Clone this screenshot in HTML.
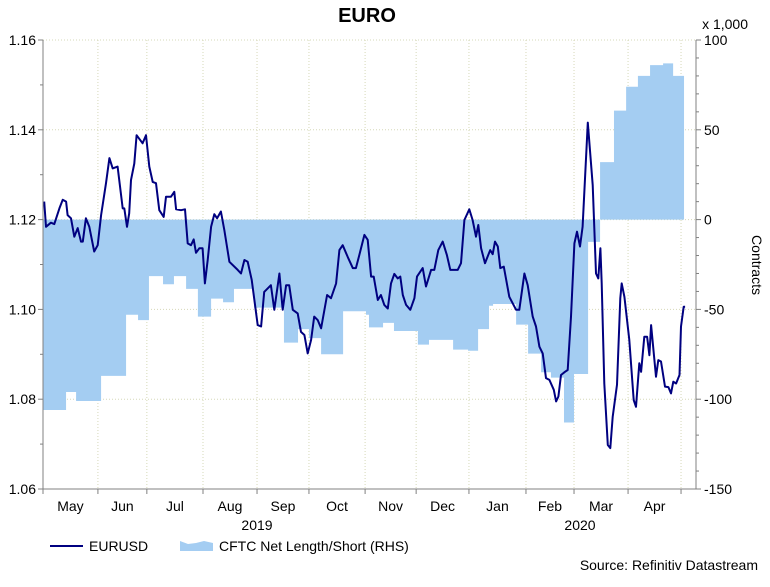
<!DOCTYPE html>
<html><head><meta charset="utf-8"><style>
body{margin:0;background:#fff;}
svg text{font-family:"Liberation Sans",Arial,sans-serif;fill:#000;}
</style></head><body>
<svg id="chart" width="770" height="582" viewBox="0 0 770 582" xmlns="http://www.w3.org/2000/svg">
<text x="367" y="22" font-size="20" font-weight="bold" text-anchor="middle">EURO</text>
<text x="748" y="29" font-size="14" text-anchor="end">x 1,000</text>
<g id="grid"></g>
<g id="area"></g>
<g id="line"></g>
<g id="axes"></g>
<text transform="translate(752,265) rotate(90)" font-size="14" text-anchor="middle">Contracts</text>
<text x="257" y="530" font-size="14" text-anchor="middle">2019</text>
<text x="580" y="530" font-size="14" text-anchor="middle">2020</text>
<g>
<line x1="50" y1="546" x2="83" y2="546" stroke="#000080" stroke-width="2"/>
<text x="89" y="551" font-size="14">EURUSD</text>
</g>
<g>
<path d="M180,541 L188,544 L196,543 L204,541 L213,543 L213,551 L180,551 Z" fill="#a4cdf2"/>
<text x="219" y="551" font-size="14">CFTC Net Length/Short (RHS)</text>
</g>
<text x="758" y="570" font-size="14" text-anchor="end">Source: Refinitiv Datastream</text>
</svg>
<script>
// EURUSD: day offsets from late Apr 2019, and prices
const fxDays=[0.7,1.7,4.5,6.4,9.3,11.2,13.1,14.0,15.9,17.8,19.7,21.6,22.6,24.4,26.3,29.1,31.1,33.0,35.8,37.7,39.6,42.4,45.3,46.2,47.7,49.0,50.0,51.9,53.2,56.6,58.5,60.4,62.3,64.2,66.1,68.6,69.9,72.7,74.6,75.6,78.4,80.7,82.2,84.1,85.6,86.9,88.8,90.7,92.0,93.6,95.5,97.3,98.9,101.1,103.0,105.9,110.6,112.5,114.4,116.3,118.6,122.0,123.9,125.7,129.5,131.4,134.3,136.2,138.1,139.9,141.9,144.7,146.6,148.5,150.4,152.3,154.1,156.1,158.0,161.4,163.6,166.5,168.4,170.3,173.1,176.0,177.8,179.7,182.6,184.5,186.4,187.9,190.2,192.0,193.9,195.9,197.7,199.6,201.5,203.0,204.4,206.3,208.7,211.0,212.5,215.7,217.6,220.5,222.3,224.6,227.1,229.5,231.4,235.6,237.5,239.4,242.2,244.1,246.0,247.3,248.9,251.1,254.1,255.5,256.8,258.4,259.8,261.8,264.9,268.8,270.6,273.5,275.4,278.2,280.1,282.0,283.9,285.8,287.7,290.2,291.5,292.8,294.3,296.6,298.1,300.0,301.9,303.4,305.1,306.6,309.5,312.3,314.2,315.5,316.7,317.4,318.9,320.9,322.3,323.7,326.1,328.0,328.8,330.3,333.1,335.6,336.9,338.8,339.8,341.6,343.2,344.5,345.5,348.3,349.6,351.1,353.4,355.3,356.8,358.1,359.7,361.6,362.5,364.0,364.8];
const fxValues=[1.1240,1.1184,1.1193,1.1190,1.1225,1.1244,1.1240,1.1210,1.1203,1.1162,1.1181,1.1151,1.1151,1.1203,1.1184,1.1129,1.1143,1.1210,1.1281,1.1337,1.1314,1.1318,1.1225,1.1225,1.1184,1.1214,1.1288,1.1325,1.1388,1.1370,1.1388,1.1318,1.1284,1.1281,1.1221,1.1206,1.1251,1.1251,1.1262,1.1223,1.1221,1.1223,1.1147,1.1143,1.1156,1.1126,1.1136,1.1136,1.1058,1.1110,1.1184,1.1212,1.1203,1.1218,1.1177,1.1106,1.1088,1.1080,1.1110,1.1106,1.1066,1.0965,1.0962,1.1039,1.1054,1.0999,1.1080,1.0999,1.1054,1.1054,1.0999,1.0991,1.0950,1.0943,1.0902,1.0932,1.0984,1.0976,1.0958,1.1032,1.1025,1.1058,1.1132,1.1143,1.1117,1.1092,1.1092,1.1121,1.1166,1.1155,1.1073,1.1073,1.1021,1.1032,1.1010,1.1002,1.1058,1.1079,1.1069,1.1073,1.1032,1.1010,1.0999,1.1025,1.1073,1.1092,1.1051,1.1088,1.1088,1.1132,1.1151,1.1121,1.1088,1.1088,1.1103,1.1199,1.1223,1.1199,1.1162,1.1188,1.1136,1.1103,1.1132,1.1123,1.1151,1.1140,1.1092,1.1095,1.1028,1.0999,1.0999,1.1080,1.1054,1.0984,1.0962,1.0917,1.0902,1.0847,1.0843,1.0821,1.0795,1.0806,1.0854,1.0861,1.0865,1.0984,1.1147,1.1173,1.1140,1.1184,1.1416,1.1277,1.1080,1.1069,1.1136,1.1058,1.0835,1.0698,1.0691,1.0761,1.0832,1.1025,1.1058,1.1028,1.0932,1.0798,1.0783,1.0880,1.0861,1.0939,1.0939,1.0898,1.0965,1.0850,1.0887,1.0884,1.0828,1.0827,1.0813,1.0839,1.0835,1.0854,1.0962,1.1006,1.1006];
// CFTC net positions (thousands): start day of each step, value
const cftcDays=[0,13.1,18.8,33,47.2,54,60.2,68.2,74.4,81.3,88,95.5,102.3,108.5,119.9,136.9,144.9,151.1,158,170.5,183.5,185.2,193.2,199.4,213,219.3,233,241.5,247.2,253.4,255.7,268.8,275.6,283,288.6,296,301.7,309.7,316.5,324.4,331.3,338,344.9,352.3,358];
const cftcValues=[-106,-96,-101,-87,-53,-56,-31.5,-36,-31.5,-38.6,-54,-44,-46,-38.6,-49,-68.5,-61,-66,-75,-51,-53,-60,-57.5,-62,-69.6,-67,-72.4,-73,-61,-48,-47,-58.5,-74.6,-85,-88,-113,-86,-12.4,32,60.7,74,80,86,87,80];
const cftcEndDay=364.2;
const leftTicks=[1.06,1.08,1.10,1.12,1.14,1.16];
const leftTickLabels=["1.06","1.08","1.10","1.12","1.14","1.16"];
const rightTicks=[-150,-100,-50,0,50,100];
const monthLabels=["May","Jun","Jul","Aug","Sep","Oct","Nov","Dec","Jan","Feb","Mar","Apr"];
const monthTickDays=[0,31.2,59,90.9,121.6,151.1,183,212,242,274.4,301.7,332.4,362.5];

const X0=43,X1=696,Y0=40,Y1=489,DMAX=371;
const xs=d=>X0+d/DMAX*(X1-X0);
const yL=v=>Y1-(v-1.06)/0.10*(Y1-Y0);
const yR=v=>Y1-(v+150)/250*(Y1-Y0);
const NS="http://www.w3.org/2000/svg";
function mk(tag,attrs,parent){const e=document.createElementNS(NS,tag);for(const k in attrs)e.setAttribute(k,attrs[k]);parent.appendChild(e);return e;}
const grid=document.getElementById('grid'),area=document.getElementById('area'),line=document.getElementById('line'),axes=document.getElementById('axes');

leftTicks.forEach((t,i)=>{
  const y=yL(t);
  if(i>0){const g=mk('line',{x1:X0,x2:X1,y1:y,y2:y,stroke:'#d6d8b8','stroke-width':1,'stroke-dasharray':'1,2'},grid);
  
  }
  const tx=mk('text',{x:36,y:y+5,'font-size':14,'text-anchor':'end'},axes);tx.textContent=leftTickLabels[i];
  
  
  mk('line',{x1:X0-5,x2:X0,y1:y,y2:y,stroke:'#808080'},axes);
  if(i<leftTicks.length-1)mk('line',{x1:X0-3,x2:X0,y1:yL(t+0.01),y2:yL(t+0.01),stroke:'#808080'},axes);
});
monthTickDays.forEach((d,i)=>{
  const x=xs(d);
  if(i>0&&i<monthTickDays.length){const g=mk('line',{x1:x,x2:x,y1:Y0,y2:Y1,stroke:'#d6d8b8','stroke-width':1,'stroke-dasharray':'1,2'},grid);
  
  }
  mk('line',{x1:x,x2:x,y1:Y1,y2:Y1+5,stroke:'#808080'},axes);
  if(i<monthLabels.length){const tx=mk('text',{x:(x+xs(monthTickDays[i+1]))/2,y:511,'font-size':14,'text-anchor':'middle'},axes);tx.textContent=monthLabels[i];
  
  }
});
rightTicks.forEach(t=>{
  const y=yR(t);
  mk('line',{x1:X1,x2:X1+5,y1:y,y2:y,stroke:'#808080'},axes);
  if(t<100)for(let m=10;m<50;m+=10)mk('line',{x1:X1,x2:X1+3,y1:yR(t+m),y2:yR(t+m),stroke:'#808080'},axes);
  const tx=mk('text',{x:704,y:y+5,'font-size':14},axes);tx.textContent=String(t);
  
  
});
// area steps
let d='';const y0=yR(0);
cftcDays.forEach((s,i)=>{
  const e=i<cftcDays.length-1?cftcDays[i+1]:cftcEndDay;
  const y=yR(cftcValues[i]);
  d+=(i===0?'M'+xs(s)+','+y0+' L':'L')+xs(s)+','+y+' L'+xs(e)+','+y+' ';
});
d+='L'+xs(cftcEndDay)+','+y0+' Z';
const ap=mk('path',{d:d,fill:'#a4cdf2',stroke:'none'},area);


// line
const pts=fxDays.map((dd,i)=>xs(dd).toFixed(1)+','+yL(fxValues[i]).toFixed(1)).join(' ');
const pl=mk('polyline',{points:pts,fill:'none',stroke:'#000080','stroke-width':2,'stroke-linejoin':'round'},line);


// axis lines
mk('line',{x1:X0,x2:X0,y1:Y0,y2:Y1,stroke:'#808080'},axes);
mk('line',{x1:X1,x2:X1,y1:Y0,y2:Y1,stroke:'#808080'},axes);
mk('line',{x1:X0,x2:X1,y1:Y1,y2:Y1,stroke:'#808080'},axes);
</script>
</body></html>
